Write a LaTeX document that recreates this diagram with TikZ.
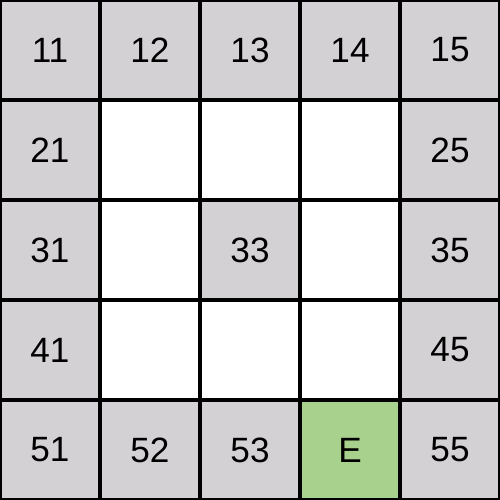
\documentclass[tikz,border=0pt]{standalone}
\usepackage{fontspec}
\setmainfont{Liberation Sans}
\definecolor{cellgray}{RGB}{211,209,211}
\definecolor{cellgreen}{RGB}{169,209,142}
\tikzset{
  cell/.style={draw=black, line width=0.9pt, minimum size=1cm, inner sep=0pt, outer sep=0pt, font=\fontsize{10}{12}\selectfont},
  wall/.style={cell, fill=cellgray},
  open/.style={cell, fill=white},
  goal/.style={cell, fill=cellgreen}
}
\begin{document}
\begin{tikzpicture}[x=1cm,y=1cm]
\useasboundingbox (0,0) rectangle (5,5);
\clip (0,0) rectangle (5,5);
% row 1
\node[wall] (c11) at (0.5,4.5) {11};
\node[wall] (c12) at (1.5,4.5) {12};
\node[wall] (c13) at (2.5,4.5) {13};
\node[wall] (c14) at (3.5,4.5) {14};
\node[wall] (c15) at (4.5,4.5) {15};
% row 2
\node[wall] (c21) at (0.5,3.5) {21};
\node[open] (c22) at (1.5,3.5) {};
\node[open] (c23) at (2.5,3.5) {};
\node[open] (c24) at (3.5,3.5) {};
\node[wall] (c25) at (4.5,3.5) {25};
% row 3
\node[wall] (c31) at (0.5,2.5) {31};
\node[open] (c32) at (1.5,2.5) {};
\node[wall] (c33) at (2.5,2.5) {33};
\node[open] (c34) at (3.5,2.5) {};
\node[wall] (c35) at (4.5,2.5) {35};
% row 4
\node[wall] (c41) at (0.5,1.5) {41};
\node[open] (c42) at (1.5,1.5) {};
\node[open] (c43) at (2.5,1.5) {};
\node[open] (c44) at (3.5,1.5) {};
\node[wall] (c45) at (4.5,1.5) {45};
% row 5
\node[wall] (c51) at (0.5,0.5) {51};
\node[wall] (c52) at (1.5,0.5) {52};
\node[wall] (c53) at (2.5,0.5) {53};
\node[goal] (c54) at (3.5,0.5) {E};
\node[wall] (c55) at (4.5,0.5) {55};
\end{tikzpicture}
\end{document}
